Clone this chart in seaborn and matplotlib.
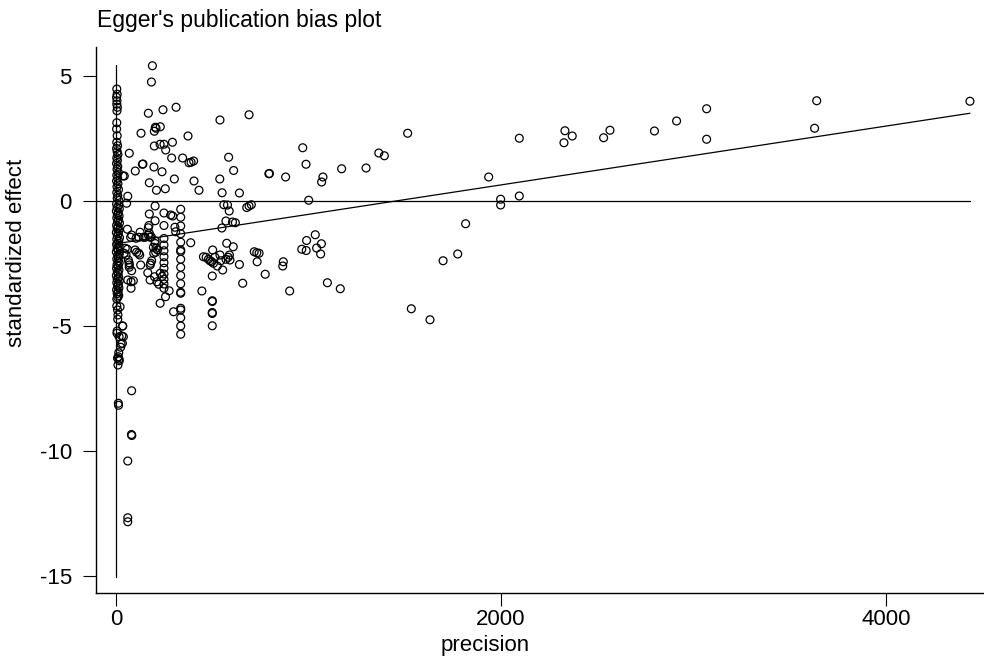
import numpy as np
import pandas as pd
import matplotlib
matplotlib.use("Agg")
import matplotlib.pyplot as plt
import seaborn as sns

# ---------------- data ----------------
# dense column of studies with precision close to 0
col_prec = [4, 6, 3, 5, 4, 7, 5, 4, 3, 6, 4, 8, 3, 6, 10, 4, 7, 3, 9, 5, 12, 4, 8, 3, 10, 5, 13, 4, 9, 6, 15,
            3, 14, 6, 17, 2, 12, 7, 16, 4, 13, 8, 18, 3, 11, 6, 15, 2, 12, 7, 18, 4, 14, 9, 3, 16, 6, 12, 2, 17,
            8, 13, 4, 10, 16, 5, 12, 3, 15, 7, 11, 2, 14, 6, 17, 4, 12, 8, 15, 3, 11, 6, 14, 9, 4,
            4, 21, 8, 10, 9, 34, 6, 5, 30, 16, 33, 26, 24, 14, 12, 8, 16, 17, 10, 12, 13]
col_eff = [4.48, 4.27, 4.15, 4.01, 3.87, 3.75, 3.61, 3.13, 2.88, 2.61, 2.35, 2.21, 2.10, 1.97, 1.86, 1.73,
           1.62, 1.50, 1.38, 1.27, 1.14, 1.03, 0.92, 0.80, 0.69, 0.57, 0.46, 0.34, 0.22, 0.11, 0.02,
           -0.12, -0.17, -0.26, -0.31, -0.40, -0.47, -0.55, -0.60, -0.68, -0.76, -0.83, -0.88, -0.97, -1.04,
           -1.10, -1.18, -1.26, -1.31, -1.40, -1.47, -1.53, -1.60, -1.69, -1.74, -1.82, -1.90, -1.96, -2.04,
           -2.11, -2.18, -2.26, -2.32, -2.40, -2.47, -2.55, -2.61, -2.69, -2.76, -2.83, -2.90, -2.98, -3.05,
           -3.12, -3.20, -3.27, -3.33, -3.41, -3.48, -3.55, -3.63, -3.70, -3.78, -3.85, -3.92,
           -4.20, -4.23, -4.36, -4.56, -4.73, -5.00, -5.20, -5.29, -5.40, -5.43, -5.69, -5.72, -5.85, -6.07,
           -6.23, -6.29, -6.33, -6.39, -6.56, -8.09, -8.17]

# low-precision studies just right of the column
near_prec = [81, 80, 82, 61, 61, 61, 36, 43, 69, 100, 130, 137, 140, 61, 55, 59, 81, 125, 76, 104, 119, 142,
             48, 59, 42, 52, 64, 69, 68, 99, 107, 118, 123, 128, 61, 78, 90, 78, 69, 81, 35, 38]
near_eff = [-7.59, -9.34, -9.38, -10.40, -12.67, -12.83, 1.00, 1.00, 1.91, 1.20, 2.71, 1.47, 1.48, 0.19,
            -0.09, -1.13, -1.36, -1.25, -1.45, -1.49, -1.45, -1.45, -1.89, -1.93, -2.09, -2.16, -2.36, -2.56,
            -2.47, -1.96, -2.05, -2.09, -2.16, -2.56, -3.16, -3.23, -3.19, -3.49, -2.65, -2.79, -5.00, -5.43]

# studies with precision between about 150 and 450
mid_prec = [189, 184, 244, 312, 168, 204, 230, 199, 208, 374, 293, 199, 229, 249, 258, 289, 346, 379, 390,
            403, 197, 239, 303, 173, 405, 210, 256, 431,
            203, 173, 249, 284, 294, 203, 171, 168, 249, 306, 310, 173, 183, 168, 151, 177, 203, 203, 388,
            194, 208, 216, 206, 196, 185, 180, 177, 165, 177, 200, 213, 222, 230, 240, 276, 257, 229, 299]
mid_eff = [5.41, 4.76, 3.65, 3.75, 3.51, 2.95, 2.97, 2.79, 2.91, 2.60, 2.35, 2.20, 2.27, 2.27, 2.04, 1.72,
           1.72, 1.53, 1.55, 1.60, 1.36, 1.17, 0.88, 0.73, 0.80, 0.43, 0.49, 0.43,
           -0.20, -0.52, -0.48, -0.56, -0.60, -0.79, -0.98, -1.07, -0.98, -1.05, -1.23, -1.29, -1.43, -1.36,
           -1.45, -1.45, -1.59, -1.70, -1.67, -1.85, -1.89, -1.96, -2.05, -2.09, -2.39, -2.49, -2.56, -2.87,
           -3.16, -3.03, -3.23, -3.33, -2.89, -3.02, -3.59, -3.83, -4.09, -4.43]

# vertical stripes of identical precision
stripe_prec = [249] * 10 + [336] * 18 + [500] * 5
stripe_eff = [-1.50, -1.76, -1.99, -2.23, -2.47, -2.69, -2.92, -3.13, -3.32, -3.49,
              -0.33, -0.65, -1.00, -1.31, -1.65, -1.96, -2.02, -2.33, -2.65, -2.98, -3.31, -3.65, -3.69,
              -4.29, -4.36, -4.67, -5.00, -5.33,
              -3.99, -4.02, -4.46, -4.50, -4.99]

# studies with precision between about 450 and 1200
wide_prec = [540, 691, 585, 611, 794, 797, 881, 539, 551, 641, 970, 987, 1001, 1075, 1068, 1172, 1299, 1365,
             1394, 1515, 560, 579, 588, 679, 691, 703, 571, 605, 620, 550, 575, 609,
             454, 468, 480, 488, 497, 506, 502, 514, 526, 540, 544, 554, 571, 583, 589, 592, 641, 500, 658,
             446, 718, 731, 743, 733, 775, 869, 866, 902, 965, 988, 990, 1035, 1042, 1067, 1063, 1098, 1165]
wide_eff = [3.24, 3.45, 1.75, 1.22, 1.09, 1.10, 0.96, 0.88, 0.33, 0.32, 2.13, 1.47, 0.03, 0.96, 0.76, 1.29,
            1.32, 1.92, 1.81, 2.71, -0.15, -0.16, -0.40, -0.26, -0.20, -0.15, -0.80, -0.84, -0.87, -1.08,
            -1.69, -1.83,
            -2.23, -2.25, -2.33, -2.39, -2.43, -2.49, -1.96, -2.25, -2.60, -2.16, -2.39, -2.76, -2.33, -2.25,
            -2.16, -2.36, -2.54, -3.00, -3.29, -3.60, -2.03, -2.07, -2.09, -2.43, -2.93, -2.43, -2.60, -3.60,
            -1.93, -1.98, -1.58, -1.35, -1.88, -1.71, -2.12, -3.27, -3.51]

# high-precision studies
high_prec = [1936, 1998, 1998, 2095, 2095, 2332, 2370, 2327, 2533, 2566, 2797, 2912, 3068, 3068, 3640, 3629,
             4436, 1816, 1775, 1699, 1534, 1631]
high_eff = [0.96, 0.07, -0.16, 2.51, 0.20, 2.81, 2.60, 2.33, 2.53, 2.83, 2.80, 3.20, 3.69, 2.47, 4.01, 2.91,
            3.99, -0.91, -2.12, -2.39, -4.31, -4.75]

# Egger regression (fitted line) and reference lines
fit_prec = [0, 4436]
fit_eff = [-1.71, 3.51]
zero_prec = [-104, 4436]
zero_eff = [0, 0]
ci_prec = [0, 0]
ci_eff = [-15.03, 5.44]

x_ticks = [0, 2000, 4000]
x_ticklabels = ["0", "2000", "4000"]
y_ticks = [5, 0, -5, -10, -15]
y_ticklabels = ["5", "0", "-5", "-10", "-15"]

df = pd.DataFrame({
    "precision": col_prec + near_prec + mid_prec + stripe_prec + wide_prec + high_prec,
    "standardized effect": col_eff + near_eff + mid_eff + stripe_eff + wide_eff + high_eff,
})

# ---------------- figure ----------------
sns.set_theme(style="white")
plt.rcParams["font.family"] = ["Liberation Sans", "DejaVu Sans"]
plt.rcParams["axes.unicode_minus"] = False

fig = plt.figure(figsize=(9.84, 6.59), dpi=100)
ax = fig.add_axes([96 / 984, 1 - 593 / 659, (984 - 96) / 984, (593 - 47) / 659])

line_kw = dict(ax=ax, color="black", linewidth=0.9, sort=False, estimator=None, errorbar=None)
sns.lineplot(x=ci_prec, y=ci_eff, **line_kw)
sns.lineplot(x=zero_prec, y=zero_eff, **line_kw)
sns.lineplot(x=fit_prec, y=fit_eff, **line_kw)
pts = sns.scatterplot(data=df, x="precision", y="standardized effect", ax=ax, marker="o", s=32,
                      linewidth=0.9, zorder=3)
for coll in ax.collections:
    coll.set_facecolor("none")
    coll.set_edgecolor("black")

ax.set_xlim(-104, 4509)
ax.set_ylim(-15.68, 6.16)

for side in ["top", "right"]:
    ax.spines[side].set_visible(False)
for side in ["left", "bottom"]:
    ax.spines[side].set_color("black")
    ax.spines[side].set_linewidth(1.0)

ax.set_xticks(x_ticks)
ax.set_xticklabels(x_ticklabels)
ax.set_yticks(y_ticks)
ax.set_yticklabels(y_ticklabels)
ax.tick_params(axis="both", which="major", length=9.4, width=0.8, color="black",
               labelsize=16, labelcolor="black", direction="out", bottom=True, left=True)
ax.tick_params(axis="y", pad=8)
ax.tick_params(axis="x", pad=2)
ax.grid(False)

ax.set_xlabel("precision", fontsize=16, color="black", va="center")
ax.xaxis.set_label_coords((485.5 - 96) / 888, (593 - 645) / 546)
ax.set_ylabel("standardized effect", fontsize=16, color="black", va="center")
ax.yaxis.set_label_coords((17 - 96) / 888, (593 - 252.5) / 546)

fig.text(97 / 984, 1 - 26.7 / 659, "Egger's publication bias plot", fontsize=16.5,
         color="black", ha="left", va="baseline")

fig.savefig("out.png", dpi=100)
